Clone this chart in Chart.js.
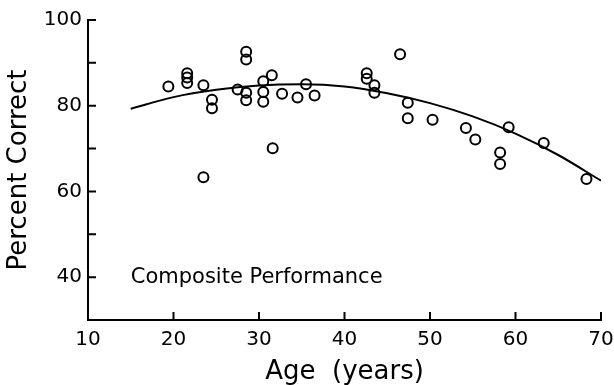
<!DOCTYPE html>
<html>
<head>
<meta charset="utf-8">
<script src="https://cdn.jsdelivr.net/npm/chart.js@4"></script>
<style>
  html, body { margin: 0; padding: 0; background: #fff; }
  #wrap { width: 614px; height: 385px; }
</style>
</head>
<body>
<div id="wrap"><canvas id="ageChart" width="614" height="385"></canvas></div>
<script>
// subject ages and composite scores
const ages = [19.4, 21.6, 21.6, 21.6, 23.5, 23.5, 24.5, 24.5, 27.5, 28.5, 28.5, 28.5, 28.5,
  30.5, 30.5, 30.5, 31.5, 31.6, 32.7, 34.5, 35.5, 36.5, 42.6, 42.6, 43.5, 43.5,
  46.5, 47.4, 47.4, 50.3, 54.2, 55.3, 58.2, 58.2, 59.2, 63.3, 68.3];
const scores = [84.5, 87.6, 86.6, 85.3, 84.8, 63.3, 81.4, 79.4, 83.8, 92.6, 90.8, 83.0, 81.3,
  85.7, 83.2, 80.9, 87.1, 70.1, 82.8, 81.9, 85.0, 82.4, 87.6, 86.3, 84.8, 83.0,
  92.0, 80.7, 77.1, 76.7, 74.8, 72.1, 69.1, 66.4, 75.0, 71.3, 62.9];

// fitted curve, sampled from the drawn line
const fitAges = [15, 20, 25, 30, 35, 40, 45, 50, 55, 60, 65, 70];
const fitScores = [79.3, 82.0, 83.7, 84.7, 85.0, 84.5, 82.9, 80.6, 77.5, 73.5, 68.5, 62.5];

const xTicks = [10, 20, 30, 40, 50, 60, 70];
const yTicks = [40, 50, 60, 70, 80, 90, 100];
const yLabels = [40, 60, 80, 100];

const FONT = "DejaVu Sans";

const axisDecor = {
  id: "axisDecor",
  afterDraw(chart) {
    const ctx = chart.ctx;
    const xs = chart.scales.x, ys = chart.scales.y;
    const area = chart.chartArea;
    ctx.save();
    ctx.strokeStyle = "#000";
    ctx.lineWidth = 2;
    ctx.beginPath();
    yTicks.forEach((v) => {
      const py = ys.getPixelForValue(v);
      ctx.moveTo(area.left, py);
      ctx.lineTo(area.left + 8, py);
    });
    xTicks.slice(1).forEach((v) => {
      const px = xs.getPixelForValue(v);
      ctx.moveTo(px, area.bottom);
      ctx.lineTo(px, area.bottom - 8);
    });
    ctx.stroke();

    ctx.fillStyle = "#000";
    ctx.font = "21px '" + FONT + "'";
    ctx.textBaseline = "middle";
    ctx.textAlign = "left";
    ctx.fillText("Composite Performance", xs.getPixelForValue(15), ys.getPixelForValue(40));
    ctx.restore();
  }
};

new Chart(document.getElementById("ageChart"), {
  type: "scatter",
  data: {
    datasets: [
      {
        label: "Fit",
        type: "line",
        data: fitAges.map((a, i) => ({ x: a, y: fitScores[i] })),
        borderColor: "#000",
        borderWidth: 2,
        pointRadius: 0,
        cubicInterpolationMode: "monotone",
        fill: false
      },
      {
        label: "Subjects",
        data: ages.map((a, i) => ({ x: a, y: scores[i] })),
        borderColor: "#000",
        backgroundColor: "rgba(0,0,0,0)",
        borderWidth: 2,
        pointRadius: 5,
        pointHoverRadius: 5
      }
    ]
  },
  options: {
    responsive: false,
    animation: false,
    layout: { padding: { top: 20, right: 13, left: 0, bottom: 0 } },
    plugins: { legend: { display: false }, tooltip: { enabled: false } },
    scales: {
      x: {
        type: "linear",
        min: 10,
        max: 70,
        afterBuildTicks: (s) => { s.ticks = xTicks.map((v) => ({ value: v })); },
        afterFit: (s) => { s.height = 65; s.paddingRight = 0; s.paddingLeft = 0; },
        grid: { display: false, drawTicks: false },
        border: { display: true, color: "#000", width: 2 },
        ticks: { color: "#000", padding: 8, font: { family: FONT, size: 20 }, maxRotation: 0 },
        title: {
          display: true,
          text: "Age  (years)",
          color: "#000",
          font: { family: FONT, size: 26, lineHeight: 1.0 },
          padding: { top: 0, bottom: 0 }
        }
      },
      y: {
        min: 30,
        max: 100,
        afterBuildTicks: (s) => { s.ticks = yLabels.map((v) => ({ value: v })); },
        afterFit: (s) => { s.width = 88; },
        grid: { display: false, drawTicks: false },
        border: { display: true, color: "#000", width: 2 },
        ticks: { color: "#000", padding: 6, font: { family: FONT, size: 20 } },
        title: {
          display: true,
          text: "Percent Correct",
          color: "#000",
          font: { family: FONT, size: 26 },
          padding: { top: 4, bottom: 0 }
        }
      }
    }
  },
  plugins: [axisDecor]
});
</script>
</body>
</html>
